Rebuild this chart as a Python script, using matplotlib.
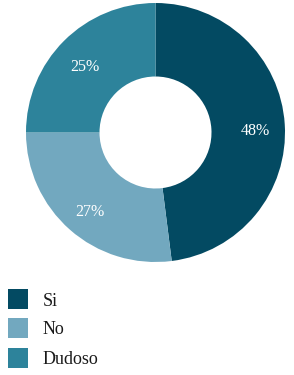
import matplotlib
matplotlib.use("Agg")
import matplotlib.pyplot as plt
from matplotlib.patches import Rectangle
from matplotlib.transforms import offset_copy

categories = ["Si", "No", "Dudoso"]
values = [48, 27, 25]
colors = ["#034a62", "#72a8bf", "#2d839b"]

W, H = 294, 375
fig = plt.figure(figsize=(W / 100, H / 100), dpi=100)
plt.rcParams['font.family'] = ['Liberation Serif', 'DejaVu Serif']

cx, cy, R = 155.5, 132.5, 129.5
ax = fig.add_axes([(cx - R) / W, (H - cy - R) / H, 2 * R / W, 2 * R / H])
wedges, texts = ax.pie(values, colors=colors, startangle=90, counterclock=False,
                       radius=1, wedgeprops=dict(width=1 - 56 / R, linewidth=0),
                       labels=[f"{v}%" for v in values], labeldistance=0.77)
for t in texts:
    t.set_color("white")
    t.set_fontsize(11.5)
    t.set_ha("center")
    t.set_va("center_baseline")
    t.set_transform(offset_copy(t.get_transform(), fig=fig, x=0, y=-3, units="dots"))
ax.set_xlim(-1, 1)
ax.set_ylim(-1, 1)
ax.set_aspect("equal")
ax.axis("off")

rows_y = [299, 328, 358]
for cat, col, yy in zip(categories, colors, rows_y):
    fig.add_artist(Rectangle((8 / W, (H - yy - 10) / H), 20 / W, 20 / H,
                             transform=fig.transFigure, facecolor=col, edgecolor="none"))
    fig.text(43 / W, (H - yy) / H, cat, fontsize=13, va="center_baseline", ha="left",
             color="#1a1a1a")

fig.savefig("out.png", dpi=100)
